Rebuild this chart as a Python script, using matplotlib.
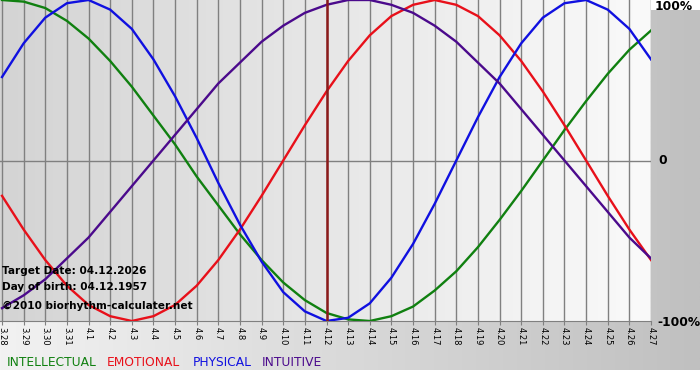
import numpy as np
import matplotlib.pyplot as plt
from matplotlib.colors import LinearSegmentedColormap

# dates on the x axis (month.day)
dates = ["3.28", "3.29", "3.30", "3.31", "4.1", "4.2", "4.3", "4.4", "4.5", "4.6",
         "4.7", "4.8", "4.9", "4.10", "4.11", "4.12", "4.13", "4.14", "4.15", "4.16",
         "4.17", "4.18", "4.19", "4.20", "4.21", "4.22", "4.23", "4.24", "4.25", "4.26",
         "4.27"]
target_date = "4.12"

# cycle values, -1 .. 1
intellectual = [1.00, 0.99, 0.95, 0.87, 0.76, 0.62, 0.46, 0.28, 0.10, -0.10,
                -0.28, -0.46, -0.62, -0.76, -0.87, -0.95, -0.99, -1.00, -0.97, -0.91,
                -0.81, -0.69, -0.54, -0.37, -0.19, 0.00, 0.19, 0.37, 0.54, 0.69,
                0.81]
emotional = [-0.22, -0.43, -0.62, -0.78, -0.90, -0.97, -1.00, -0.97, -0.90, -0.78,
             -0.62, -0.43, -0.22, 0.00, 0.22, 0.43, 0.62, 0.78, 0.90, 0.97,
             1.00, 0.97, 0.90, 0.78, 0.62, 0.43, 0.22, 0.00, -0.22, -0.43,
             -0.62]
physical = [0.52, 0.73, 0.89, 0.98, 1.00, 0.94, 0.82, 0.63, 0.40, 0.14,
            -0.14, -0.40, -0.63, -0.82, -0.94, -1.00, -0.98, -0.89, -0.73, -0.52,
            -0.27, 0.00, 0.27, 0.52, 0.73, 0.89, 0.98, 1.00, 0.94, 0.82,
            0.63]
intuitive = [-0.92, -0.84, -0.74, -0.61, -0.48, -0.32, -0.16, 0.00, 0.16, 0.32,
             0.48, 0.61, 0.74, 0.84, 0.92, 0.97, 1.00, 1.00, 0.97, 0.92,
             0.84, 0.74, 0.61, 0.48, 0.32, 0.16, 0.00, -0.16, -0.32, -0.48,
             -0.61]

GREEN = "#108010"
RED = "#e8101a"
BLUE = "#1010e0"
PURPLE = "#4b0a8c"

W, H = 700, 380
fig = plt.figure(figsize=(W / 100, H / 100), dpi=100)
fig.patch.set_facecolor("white")

# outer gradient background
bg = fig.add_axes([0, 10 / H, 1, 360 / H])
bg.imshow(np.linspace(0, 1, 256).reshape(1, -1),
          cmap=LinearSegmentedColormap.from_list("outer", ["#f2f2f2", "#c0c0c0"]),
          aspect="auto", extent=[0, 1, 0, 1])
bg.axis("off")

# plot area
ax = fig.add_axes([0, 59 / H, 651 / W, 321 / H])
x = np.arange(len(dates))
x0 = -2 / 21.63
ax.set_xlim(x0, len(dates) - 1)
ax.set_ylim(-1, 1)
ax.imshow(np.linspace(0, 1, 256).reshape(1, -1),
          cmap=LinearSegmentedColormap.from_list("inner", ["#d4d4d4", "#fafafa"]),
          aspect="auto", extent=[x0, len(dates) - 1, -1, 1], zorder=0)

ax.set_xticks(x)
ax.set_xticklabels(dates, rotation=-90, fontsize=6)
ax.tick_params(axis="x", length=3, color="#808080", pad=1.5)
ax.set_yticks([])
ax.grid(axis="x", color="#808080", lw=1, zorder=1)
ax.axhline(0, color="#808080", lw=1, zorder=1)
for s in ["top", "left", "right"]:
    ax.spines[s].set_visible(False)
ax.spines["bottom"].set_color("#808080")

ax.plot(x, intellectual, color=GREEN, lw=1.7, zorder=3)
ax.plot(x, emotional, color=RED, lw=1.7, zorder=3)
ax.plot(x, physical, color=BLUE, lw=1.7, zorder=3)
ax.plot(x, intuitive, color=PURPLE, lw=1.7, zorder=3)
ax.axvline(dates.index(target_date), color="#8b1a1a", lw=1.8, zorder=4)

# info text in the plot
for txt, y in [("Target Date: 04.12.2026", 271), ("Day of birth: 04.12.1957", 287),
               ("\u00a92010 biorhythm-calculater.net", 306)]:
    fig.text(2 / W, 1 - y / H, txt, fontsize=7.6, weight="bold", va="center",
             ha="left", zorder=10)

# right side labels
fig.text(655 / W, 1 - 7 / H, "100%", fontsize=8.8, weight="bold", va="center")
fig.text(658 / W, 1 - 161 / H, "0", fontsize=8.8, weight="bold", va="center")
fig.text(657 / W, 1 - 322 / H, "-100%", fontsize=8.8, weight="bold", va="center")

# legend
for txt, col, xp in [("INTELLECTUAL", GREEN, 7), ("EMOTIONAL", RED, 107),
                     ("PHYSICAL", BLUE, 193), ("INTUITIVE", PURPLE, 262)]:
    fig.text(xp / W, 1 - 362 / H, txt, color=col, fontsize=8.8, va="center")

fig.savefig("out.png", dpi=100)
